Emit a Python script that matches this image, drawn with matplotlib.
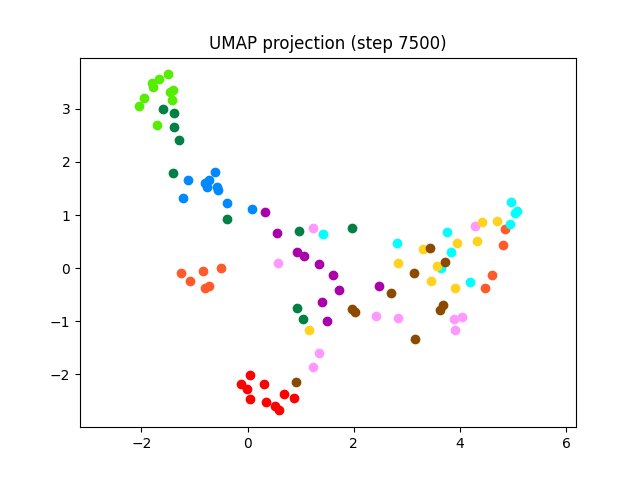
import matplotlib
matplotlib.use("Agg")
import matplotlib.pyplot as plt

# UMAP embedding, 10 clusters of 10 points
red_x = [0.05, -0.13, -0.01, 0.30, 0.05, 0.34, 0.51, 0.60, 0.69, 0.88]
red_y = [-2.01, -2.18, -2.28, -2.19, -2.47, -2.52, -2.60, -2.68, -2.38, -2.44]

orange_x = [-1.25, -1.09, -0.84, -0.51, -0.72, -0.81, 4.85, 4.82, 4.61, 4.47]
orange_y = [-0.10, -0.25, -0.06, 0.01, -0.33, -0.38, 0.74, 0.44, -0.13, -0.37]

lime_x = [-1.50, -1.67, -1.80, -1.78, -1.40, -1.46, -1.42, -1.95, -2.05, -1.70]
lime_y = [3.65, 3.57, 3.48, 3.41, 3.35, 3.31, 3.17, 3.20, 3.06, 2.70]

dgreen_x = [-1.60, -1.38, -1.38, -1.29, -1.40, -0.39, 0.97, 1.96, 0.94, 1.05]
dgreen_y = [2.99, 2.92, 2.66, 2.41, 1.79, 0.92, 0.70, 0.75, -0.75, -0.96]

blue_x = [-0.61, -1.12, -0.72, -0.80, -0.76, -0.58, -0.56, -1.22, -0.38, 0.09]
blue_y = [1.82, 1.66, 1.66, 1.60, 1.52, 1.53, 1.47, 1.33, 1.22, 1.11]

purple_x = [0.33, 0.55, 0.94, 1.07, 1.34, 1.60, 1.73, 1.41, 1.49, 2.48]
purple_y = [1.06, 0.67, 0.30, 0.23, 0.07, -0.13, -0.42, -0.64, -0.99, -0.33]

pink_x = [1.24, 0.57, 2.41, 2.84, 1.34, 1.23, 4.29, 3.88, 4.04, 3.90]
pink_y = [0.76, 0.09, -0.91, -0.94, -1.59, -1.87, 0.80, -0.95, -0.92, -1.16]

cyan_x = [1.43, 2.82, 4.96, 5.08, 5.03, 4.94, 3.75, 3.84, 3.64, 4.19]
cyan_y = [0.64, 0.48, 1.25, 1.08, 1.03, 0.83, 0.69, 0.31, 0.01, -0.26]

gold_x = [1.15, 2.83, 3.30, 4.41, 4.70, 3.94, 4.33, 3.57, 3.46, 3.90]
gold_y = [-1.16, 0.09, 0.37, 0.86, 0.89, 0.47, 0.52, 0.04, -0.25, -0.37]

brown_x = [0.92, 1.96, 2.03, 2.71, 3.14, 3.16, 3.43, 3.71, 3.68, 3.63]
brown_y = [-2.14, -0.77, -0.82, -0.47, -0.09, -1.33, 0.38, 0.11, -0.69, -0.79]

clusters = [
    (red_x, red_y, '#ff0000'),
    (orange_x, orange_y, '#ff5a2a'),
    (lime_x, lime_y, '#55ee00'),
    (dgreen_x, dgreen_y, '#008044'),
    (blue_x, blue_y, '#0088ff'),
    (purple_x, purple_y, '#aa00aa'),
    (pink_x, pink_y, '#ff99ff'),
    (cyan_x, cyan_y, '#00ffff'),
    (gold_x, gold_y, '#ffd21f'),
    (brown_x, brown_y, '#8b4a00'),
]

plt.figure(figsize=(6.4, 4.8), dpi=100)
for xs, ys, c in clusters:
    plt.scatter(xs, ys, color=c, s=36)
plt.title("UMAP projection (step 7500)")
plt.axis('equal')
plt.savefig("out.png")
